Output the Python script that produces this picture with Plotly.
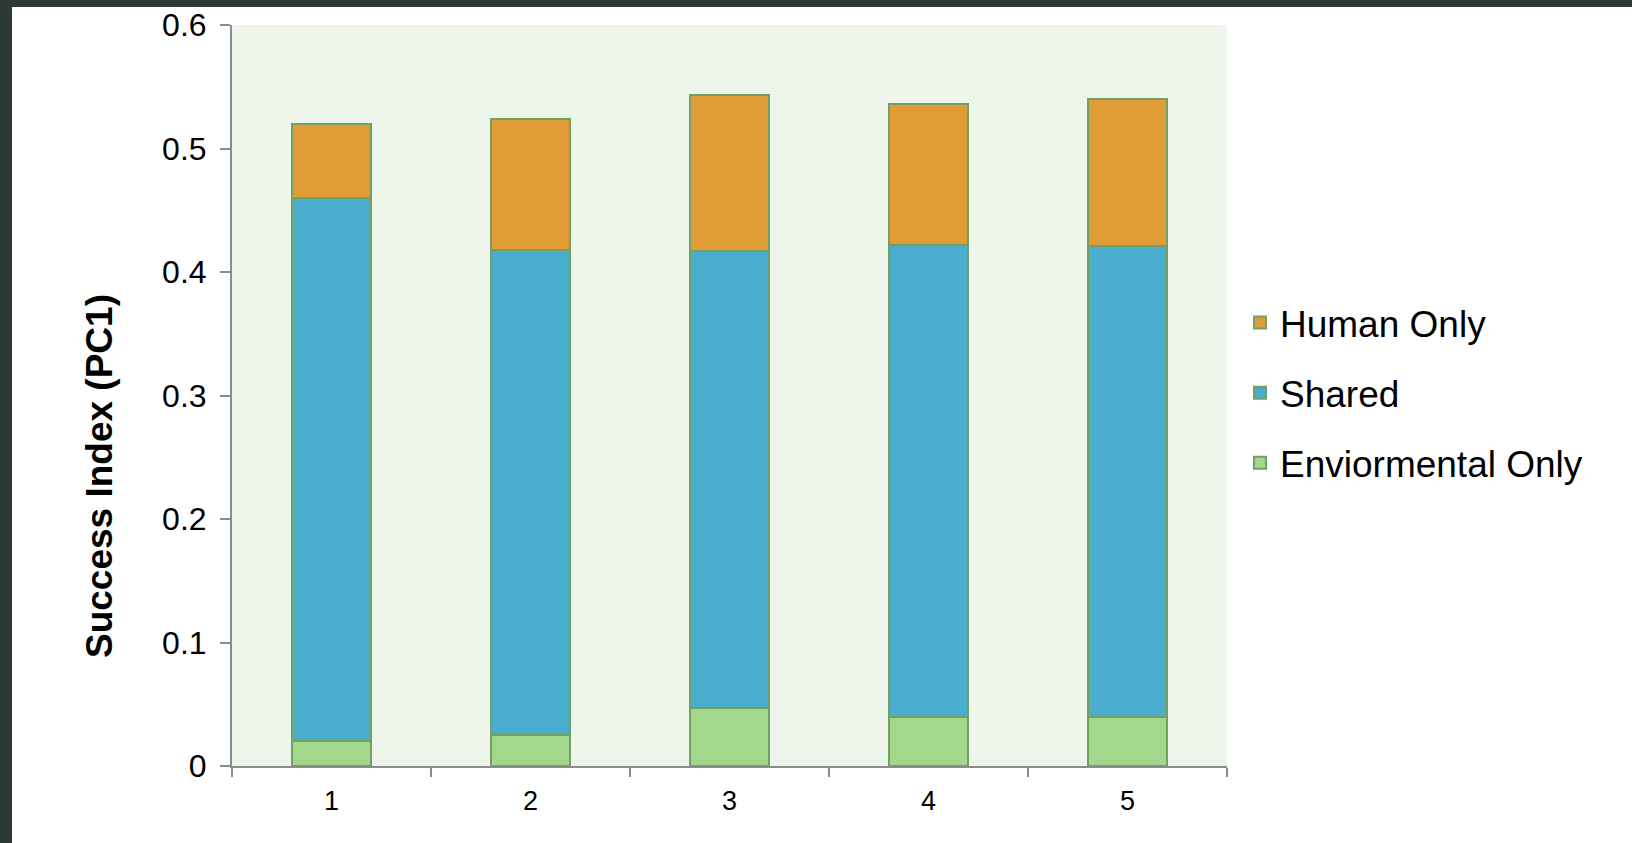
import plotly.graph_objects as go

# Stacked components of the success index for each group
groups = ["1", "2", "3", "4", "5"]
enviormental_only = [0.020, 0.025, 0.047, 0.040, 0.040]
shared = [0.440, 0.393, 0.370, 0.382, 0.381]
human_only = [0.060, 0.106, 0.126, 0.114, 0.119]

y_ticks = [0, 0.1, 0.2, 0.3, 0.4, 0.5, 0.6]
y_tick_text = ["0", "0.1", "0.2", "0.3", "0.4", "0.5", "0.6"]

FONT = "Liberation Sans, Arial, sans-serif"
EDGE = "#72a062"
AXIS = "#8c8c8c"

W, H = 1632, 843
L, R, T, B = 232, 405, 25, 77
PW, PH = W - L - R, H - T - B

# (name, values, colour, legend rank) -- stacked bottom to top
series = [
    ("Enviormental Only", enviormental_only, "#a3d78b", 3),
    ("Shared", shared, "#4badce", 2),
    ("Human Only", human_only, "#e19c35", 1),
]

fig = go.Figure()
for name, vals, color, rank in series:
    fig.add_trace(go.Bar(
        x=groups, y=vals, name=name, legendgroup=name, legendrank=rank,
        marker=dict(color=color, line=dict(color=EDGE, width=2)),
    ))

fig.update_layout(
    width=W, height=H,
    margin=dict(l=L, r=R, t=T, b=B, pad=0, autoexpand=False),
    barmode="stack", bargap=0.6,
    paper_bgcolor="white", plot_bgcolor="#eef6ec",
    font=dict(family=FONT, color="black"),
    showlegend=True,
    legend=dict(
        x=(1240 - L) / PW, xanchor="left",
        y=(H - B - 393) / PH, yanchor="middle",
        traceorder="grouped", tracegroupgap=19,
        font=dict(size=37, family=FONT, color="black"),
        itemwidth=30, bgcolor="rgba(0,0,0,0)",
    ),
    xaxis=dict(
        type="category", tickson="boundaries", automargin=False,
        ticks="outside", ticklen=9, tickwidth=2, tickcolor=AXIS,
        showline=True, linecolor=AXIS, linewidth=2,
        showgrid=False, tickfont=dict(size=27),
        ticklabelstandoff=10,
    ),
    yaxis=dict(
        range=[0, 0.6], tickvals=y_ticks, ticktext=y_tick_text,
        automargin=False,
        ticks="outside", ticklen=10, tickwidth=2, tickcolor=AXIS,
        showline=True, linecolor=AXIS, linewidth=2,
        showgrid=False, zeroline=False, tickfont=dict(size=32),
        ticklabelstandoff=7,
    ),
    annotations=[dict(
        text="<b>Success Index (PC1)</b>", textangle=-90,
        xref="paper", yref="paper",
        x=(99 - L) / PW, y=(H - B - 476) / PH,
        xanchor="center", yanchor="middle", showarrow=False,
        font=dict(size=37, family=FONT, color="black"),
    )],
    shapes=[
        # dark frame along the top and left edges of the page
        dict(type="rect", xref="paper", yref="paper", layer="above",
             x0=-L / PW, x1=(W - L) / PW, y0=(H - B - 7) / PH, y1=(H - B) / PH,
             fillcolor="#2b3a33", line=dict(width=0)),
        dict(type="rect", xref="paper", yref="paper", layer="above",
             x0=-L / PW, x1=(12 - L) / PW, y0=-B / PH, y1=(H - B) / PH,
             fillcolor="#2b3a33", line=dict(width=0)),
    ],
)

fig.write_html("out.html")
